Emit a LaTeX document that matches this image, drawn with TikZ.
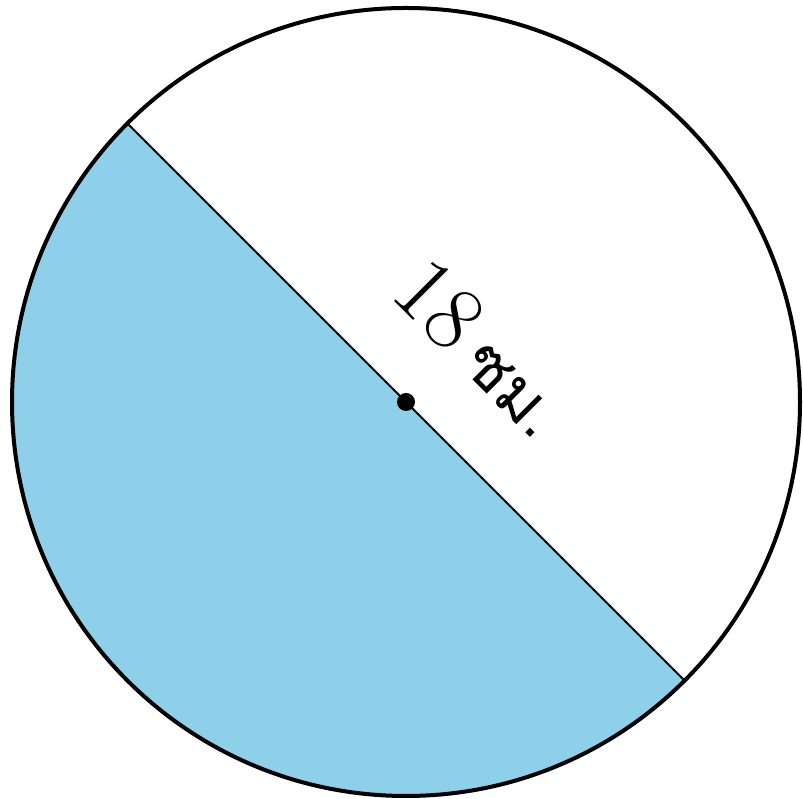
\documentclass[tikz,border=0pt]{standalone}
\usepackage{fontspec}
\usepackage{xcolor}
\usepackage{tikz}
\usetikzlibrary{positioning,calc}
\newfontfamily\thaifont[Script=Thai]{Loma}
\definecolor{halfcol}{HTML}{8ECFE9}

\begin{document}
\begin{tikzpicture}[
  x=1pt, y=1pt,
  rim/.style={draw=black, line width=4pt},
  diam/.style={draw=black, line width=1.8pt},
  centre/.style={circle, fill=black, inner sep=0pt, minimum size=18pt},
  lbl/.style={font=\fontsize{92}{92}\selectfont, pos=0.52, sloped, above=57pt}
]
  \useasboundingbox (0,0) rectangle (803,799);

  % circle
  \coordinate (O) at (406,397);
  \coordinate (A) at ($(O)+(135:394)$);
  \coordinate (B) at ($(O)+(-45:394)$);
  \fill[halfcol] (A) arc[start angle=135, end angle=315, radius=394] -- cycle;
  \draw[rim] (O) circle[radius=394];

  % diameter
  \draw[diam] (A) -- (B) node[lbl] {18\,{\thaifont\fontsize{66}{66}\selectfont ซม.}};
  \node[centre] (ctr) at (O) {};
\end{tikzpicture}
\end{document}
